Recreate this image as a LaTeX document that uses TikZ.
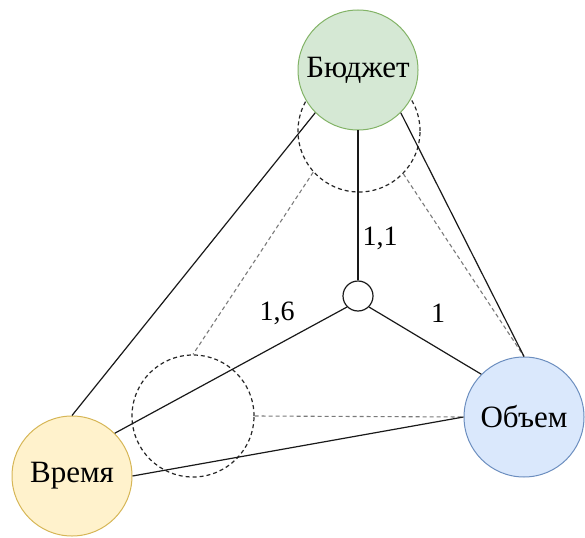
\documentclass[tikz,border=0pt]{standalone}
\usepackage{fontspec}
\setmainfont{Liberation Serif}
\definecolor{bfill}{HTML}{D5E8D4}
\definecolor{bdraw}{HTML}{82B366}
\definecolor{vfill}{HTML}{DAE8FC}
\definecolor{vdraw}{HTML}{6C8EBF}
\definecolor{tfill}{HTML}{FFF2CC}
\definecolor{tdraw}{HTML}{D6B656}
\definecolor{dgray}{HTML}{7A7A7A}
\tikzset{
  bigc/.style={circle, minimum size=120pt, inner sep=0pt, line width=1pt, font=\fontsize{31}{34}\selectfont},
  dashc/.style={circle, minimum size=122pt, inner sep=0pt, draw=black!85, line width=1.2pt, dash pattern=on 4pt off 3pt},
  conn/.style={draw=black!90, line width=1.2pt},
  dconn/.style={draw=dgray, line width=1.1pt, dash pattern=on 4pt off 3pt},
  lbl/.style={font=\fontsize{28}{30}\selectfont},
}
\begin{document}
\begin{tikzpicture}[x=1pt,y=-1pt]
\useasboundingbox (0,0) rectangle (585,537);
\node[dashc] (bd) at (359,131) {};
\node[dashc] (td) at (193,416) {};
\node[bigc, fill=bfill, draw=bdraw] (bud) at (358,70) {Бюджет};
\node[bigc, fill=vfill, draw=vdraw] (vol) at (524,417) {Объем};
\node[bigc, fill=tfill, draw=tdraw] (tim) at (72,476) {Время};
\node[circle, minimum size=30pt, inner sep=0pt, draw=black!90, line width=1.2pt, fill=white] (sm) at (358,296) {};
\draw[dconn] (bd.222) -- (td.north);
\draw[dconn] (bd.316) -- (vol.north);
\draw[dconn] (td.east) -- (vol.west);
\draw[conn] (bud.south) -- (sm.north);
\draw[conn] (sm.-45) -- (vol.135);
\draw[conn] (sm.225) -- (tim.45);
\draw[conn] (bud.225) -- (tim.north);
\draw[conn] (bud.-45) -- (vol.north);
\draw[conn] (tim.east) -- (vol.west);
\node[lbl] (l1) at (380,238) {1,1};
\node[lbl] (l2) at (277,313) {1,6};
\node[lbl] (l3) at (438,313) {1};
\end{tikzpicture}
\end{document}
